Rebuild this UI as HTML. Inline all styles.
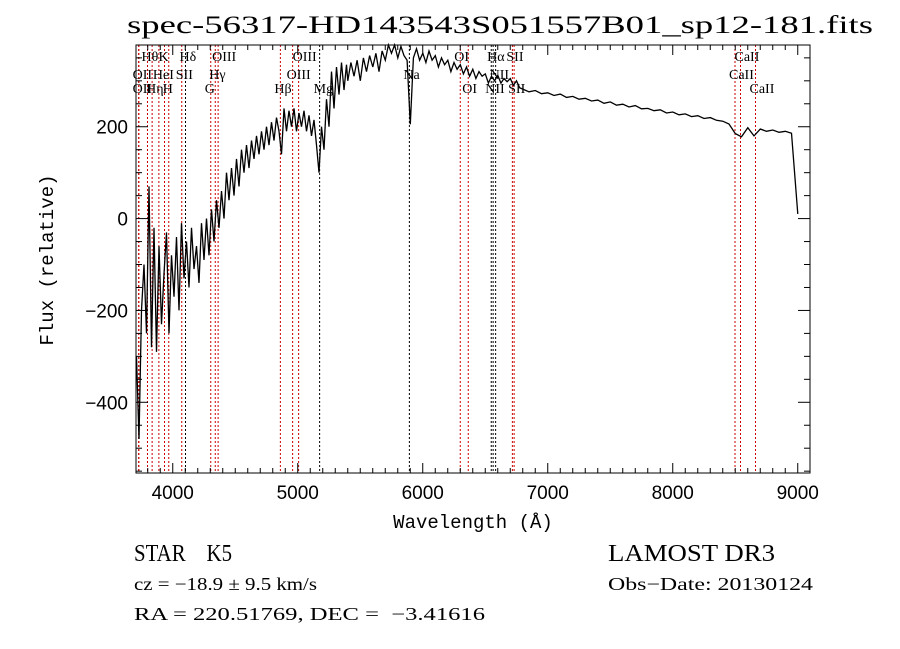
<!DOCTYPE html>
<html><head><meta charset="utf-8">
<style>
html,body{margin:0;padding:0;background:#fff;}
svg{display:block;font-family:"Liberation Serif",serif;}
</style></head>
<body>
<svg id="chart" width="900" height="649" viewBox="0 0 900 649" xmlns="http://www.w3.org/2000/svg">
<rect width="900" height="649" fill="#fff"/>
<text x="127" y="33" font-size="25" textLength="746" lengthAdjust="spacingAndGlyphs">spec-56317-HD143543S051557B01_sp12-181.fits</text>
<g id="lines"></g>
<g id="labels"></g>
<path id="spec" fill="none" stroke="#000" stroke-width="1.3"/>
<g id="axes"></g>
<text x="473" y="528" font-size="19" text-anchor="middle" font-family="Liberation Mono, monospace">Wavelength (Å)</text>
<text transform="translate(53,260) rotate(-90)" font-size="19" text-anchor="middle" font-family="Liberation Mono, monospace">Flux (relative)</text>
<text x="134" y="561" font-size="24" textLength="98" lengthAdjust="spacingAndGlyphs">STAR&#160;&#160;&#160;&#160;K5</text>
<text x="608" y="561" font-size="24" textLength="167" lengthAdjust="spacingAndGlyphs">LAMOST DR3</text>
<text x="134" y="590" font-size="18" textLength="183" lengthAdjust="spacingAndGlyphs">cz = −18.9 ± 9.5 km/s</text>
<text x="608" y="590" font-size="18" textLength="205" lengthAdjust="spacingAndGlyphs">Obs−Date: 20130124</text>
<text x="134" y="620" font-size="18" textLength="351" lengthAdjust="spacingAndGlyphs">RA = 220.51769, DEC = &#160;−3.41616</text>
</svg>
<script>
const fluxBlue = [-300,-480,-200,-100,-250,70,-280,-20,-290,-60,-230,-120,-30,-250,-80,-170,-40,-200,-10,-130,-50,-150,-20,-110,-60,-140,-10,-90,0,-80,20,-50,40,-20,60,0,100,40,110,50,130,70,150,100,160,110,170,130,180,140,190,150,200,160,210,170,220,190,140,240,190,235,200,240,190,230,200,235,190,225,180,215,160,100,200,150,260,200,320,240,330,270,340,280,335];
const fluxMid = [300,340,310,345,300,350,320,355,330,360,320,365,345,380,360,385,350,375,355,345,205,350,370,345,360,340,365,345,355,330,350,335,345,320,340,325,335,315,330,310,325,305,320,310,315,295,310,300,312,295,305,298,305,290,300,285,282];
const fluxRed = [276,279,272,274,268,271,264,266,260,262,256,258,251,254,247,249,243,246,239,240,235,237,230,232,226,228,222,224,218,220,214,212,206,185,178,198,180,195,190,193,188,190,186,10];
const wave = [];
for(let i=0;i<fluxBlue.length;i++) wave.push(3710+20*i);
for(let i=0;i<fluxMid.length;i++) wave.push(5400+25*i);
for(let i=0;i<fluxRed.length;i++) wave.push(6850+50*i);
const flux = fluxBlue.concat(fluxMid, fluxRed);
const lineWaves = [3727,3729,3798,3835,3889,3934,3968,4072,4102,4304,4340,4363,4861,4959,5007,5175,5893,6300,6364,6548,6563,6583,6717,6731,8498,8542,8662];
const lineLabels = [["OII",3727,92],["OII",3727,78],["Hθ",3798,60],["Hη",3835,92],["HeI",3889,78],["K",3934,60],["H",3968,92],["SII",4072,78],["Hδ",4102,60],["G",4304,92],["Hγ",4340,78],["OIII",4363,60],["Hβ",4861,92],["OIII",4959,78],["OIII",5007,60],["Mg",5175,92],["Na",5893,78],["OI",6300,60],["OI",6364,92],["NII",6548,92],["Hα",6563,60],["NII",6583,78],["SII",6717,60],["SII",6731,92],["CaII",8498,78],["CaII",8542,60],["CaII",8662,92]];
const blackLines = [4102,5175,5893,6548,6563,6583];
const xTicks = [4000,5000,6000,7000,8000,9000];
const yTicks = [-400,-200,0,200];

const NS="http://www.w3.org/2000/svg";
const L=136,R=810,T=45,B=473;
const X0=3706,X1=9098,Y0=-554,Y1=378;
const xs=w=>L+(w-X0)/(X1-X0)*(R-L);
const ys=f=>B-(f-Y0)/(Y1-Y0)*(B-T);
function mk(tag,attrs,parent){const e=document.createElementNS(NS,tag);for(const k in attrs)e.setAttribute(k,attrs[k]);parent.appendChild(e);return e;}

const lg=document.getElementById('lines');
lineWaves.forEach(w=>{
  const l=mk('line',{x1:xs(w),x2:xs(w),y1:T,y2:B,stroke:blackLines.includes(w)?'#000':'#c00','stroke-width':1,'stroke-dasharray':'2,2'},lg);
  
  
});
const lb=document.getElementById('labels');
lineLabels.forEach(([t,w,y])=>{
  const e=mk('text',{x:xs(w)-6,y:y+1,'font-size':14},lb);
  e.textContent=t;
  
  
});

let d='';
wave.forEach((w,i)=>{d+=(i?'L':'M')+xs(w).toFixed(1)+','+ys(Math.max(Y0,Math.min(Y1,flux[i]))).toFixed(1);});
document.getElementById('spec').setAttribute('d',d);

const ax=document.getElementById('axes');
mk('rect',{x:L,y:T,width:R-L,height:B-T,fill:'none',stroke:'#000','stroke-width':1},ax);
for(let w=3800;w<=9000;w+=100){
  const major=w%1000===0,len=major?10:5;
  mk('line',{x1:xs(w),x2:xs(w),y1:B,y2:B-len,stroke:'#000'},ax);
  mk('line',{x1:xs(w),x2:xs(w),y1:T,y2:T+len,stroke:'#000'},ax);
}
for(let f=-550;f<=350;f+=50){
  const major=f%200===0,len=major?12:6;
  mk('line',{x1:L,x2:L+len,y1:ys(f),y2:ys(f),stroke:'#000'},ax);
  mk('line',{x1:R,x2:R-len,y1:ys(f),y2:ys(f),stroke:'#000'},ax);
}
xTicks.forEach(v=>{
  const t=mk('text',{x:xs(v),y:B+26,'font-size':19,'text-anchor':'middle','font-family':'Liberation Sans, sans-serif'},ax);
  t.textContent=v;
  
  
});
yTicks.forEach(v=>{
  const t=mk('text',{x:L-8,y:ys(v)+7,'font-size':19,'text-anchor':'end','font-family':'Liberation Sans, sans-serif'},ax);
  t.textContent=v<0?'−'+Math.abs(v):v;
  
  
});
</script>
</body></html>
